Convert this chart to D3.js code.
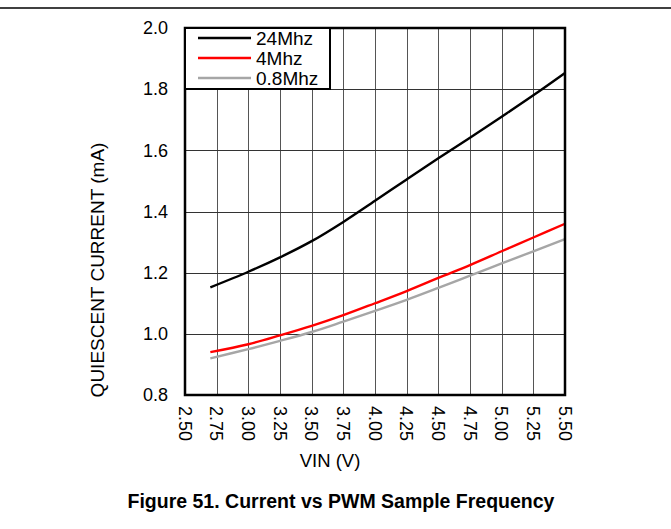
<!DOCTYPE html>
<html><head><meta charset="utf-8">
<script src="https://cdn.jsdelivr.net/npm/d3@7"></script>
<style>body{margin:0;background:#fff}svg{display:block;font-family:"Liberation Sans",Arial,sans-serif}</style>
</head><body><svg id="c" width="671" height="529"></svg>
<script>
const vin = [2.7, 3.0, 3.25, 3.5, 3.75, 4.0, 4.25, 4.5, 4.75, 5.0, 5.25, 5.5];
const s24 = [1.152, 1.203, 1.250, 1.303, 1.366, 1.435, 1.505, 1.574, 1.641, 1.71, 1.78, 1.853];
const s4 = [0.94, 0.966, 0.995, 1.026, 1.061, 1.10, 1.14, 1.183, 1.225, 1.27, 1.315, 1.36];
const s08 = [0.92, 0.95, 0.977, 1.006, 1.04, 1.075, 1.111, 1.15, 1.19, 1.23, 1.27, 1.31];
const seriesNames = ["24Mhz", "4Mhz", "0.8Mhz"];
const seriesColors = ["#000000", "#ff0000", "#a6a6a6"];
const xTicks = [2.50, 2.75, 3.00, 3.25, 3.50, 3.75, 4.00, 4.25, 4.50, 4.75, 5.00, 5.25, 5.50];
const yTicks = [0.8, 1.0, 1.2, 1.4, 1.6, 1.8, 2.0];

const svg = d3.select("#c");
const L = 185, R = 565, T = 28, B = 395;
const x = d3.scaleLinear().domain([2.5, 5.5]).range([L, R]);
const y = d3.scaleLinear().domain([0.8, 2.0]).range([B, T]);

svg.append("line").attr("x1", 0).attr("x2", 671).attr("y1", 8).attr("y2", 8)
  .attr("stroke", "#000").attr("stroke-width", 1.3);

// grid
svg.append("g").selectAll("line").data(xTicks).join("line")
  .attr("x1", d => Math.round(x(d)) + 0.5).attr("x2", d => Math.round(x(d)) + 0.5)
  .attr("y1", T).attr("y2", B).attr("stroke", "#555").attr("stroke-width", 1);
svg.append("g").selectAll("line").data(yTicks).join("line")
  .attr("y1", d => Math.round(y(d)) + 0.5).attr("y2", d => Math.round(y(d)) + 0.5)
  .attr("x1", L).attr("x2", R).attr("stroke", "#333").attr("stroke-width", 1);

// y tick labels
svg.append("g").selectAll("text").data(yTicks).join("text")
  .attr("x", 168).attr("y", d => y(d)).attr("dy", "0.35em")
  .attr("text-anchor", "end").attr("font-size", 18).text(d => d.toFixed(1));

// x tick labels rotated
svg.append("g").selectAll("text").data(xTicks).join("text")
  .attr("transform", d => `translate(${x(d)},406) rotate(90)`)
  .attr("dy", "0.35em").attr("text-anchor", "start").attr("font-size", 18)
  .text(d => d.toFixed(2));

// lines
const allSeries = [s24, s4, s08];
const line = d3.line().x((d, i) => x(vin[i])).y(d => y(d)).curve(d3.curveCatmullRom);
svg.append("g").selectAll("path").data(allSeries).join("path")
  .attr("d", d => line(d)).attr("fill", "none")
  .attr("stroke", (d, i) => seriesColors[i]).attr("stroke-width", 2.4);

// frame
svg.append("rect").attr("x", L).attr("y", T).attr("width", R - L).attr("height", B - T)
  .attr("fill", "none").attr("stroke", "#000").attr("stroke-width", 2.5);

// legend
const lg = svg.append("g");
lg.append("rect").attr("x", 185).attr("y", 28).attr("width", 145).attr("height", 61)
  .attr("fill", "#fff").attr("stroke", "#000").attr("stroke-width", 2);
seriesNames.forEach((n, i) => {
  const yy = 38 + i * 20;
  lg.append("line").attr("x1", 198).attr("x2", 251).attr("y1", yy).attr("y2", yy)
    .attr("stroke", seriesColors[i]).attr("stroke-width", 2.4);
  lg.append("text").attr("x", 256).attr("y", yy).attr("dy", "0.35em")
    .attr("font-size", 19).text(n);
});

// axis titles
svg.append("text").attr("x", 330).attr("y", 467).attr("text-anchor", "middle")
  .attr("font-size", 18.5).text("VIN (V)");
svg.append("text").attr("transform", "translate(104,270) rotate(-90)")
  .attr("text-anchor", "middle").attr("font-size", 19).text("QUIESCENT CURRENT (mA)");

svg.append("text").attr("x", 341).attr("y", 508).attr("text-anchor", "middle")
  .attr("font-size", 19.5).attr("font-weight", "bold").text("Figure 51. Current vs PWM Sample Frequency");
</script></body></html>
